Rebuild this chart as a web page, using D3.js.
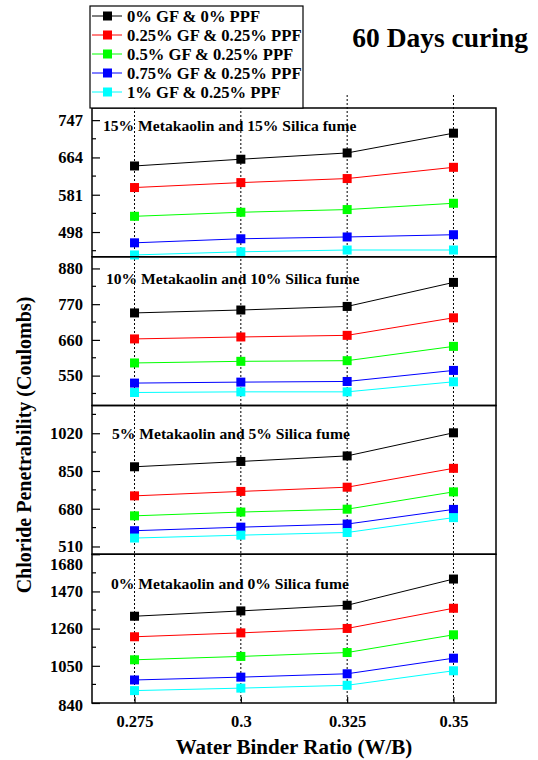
<!DOCTYPE html>
<html>
<head>
<meta charset="utf-8">
<script src="https://cdn.jsdelivr.net/npm/d3@7"></script>
<style>
  html, body { margin: 0; padding: 0; background: #fff; }
  svg text { font-family: "Liberation Serif", "Times New Roman", serif; font-weight: bold; fill: #000; }
</style>
</head>
<body>
<svg id="chart" width="538" height="760"></svg>
<script>
// Water/binder ratios on the shared x axis
const wbRatios = [0.275, 0.3, 0.325, 0.35];
const wbTickLabels = ["0.275", "0.3", "0.325", "0.35"];

// Fibre mixes (one line per mix)
const mixNames = [
  "0% GF & 0% PPF",
  "0.25% GF & 0.25% PPF",
  "0.5% GF & 0.25% PPF",
  "0.75% GF & 0.25% PPF",
  "1% GF & 0.25% PPF"
];
const mixColors = ["#000000", "#ff0000", "#00ff00", "#0000ff", "#00ffff"];

// Panel titles, top to bottom
const panelTitles = [
  "15% Metakaolin and 15% Silica fume",
  "10% Metakaolin and 10% Silica fume",
  "5% Metakaolin and 5% Silica fume",
  "0% Metakaolin and 0% Silica fume"
];

// Chloride penetrability (Coulombs), rows = mixes, cols = W/B ratios
const charge15 = [
  [645, 660, 674, 718],
  [597, 608, 617, 642],
  [533, 542, 548, 562],
  [474, 483, 487, 492],
  [447, 454, 458, 458]
];
const charge10 = [
  [743, 752, 763, 837],
  [663, 669, 674, 728],
  [589, 594, 596, 640],
  [527, 530, 532, 566],
  [498, 500, 500, 531]
];
const charge5 = [
  [869, 893, 918, 1022],
  [738, 758, 777, 862],
  [648, 665, 678, 756],
  [581, 597, 611, 677],
  [548, 561, 573, 640]
];
const charge0 = [
  [1330, 1360, 1392, 1540],
  [1214, 1236, 1261, 1375],
  [1084, 1103, 1125, 1225],
  [970, 986, 1005, 1093],
  [910, 924, 940, 1022]
];
const panelData = [charge15, charge10, charge5, charge0];

// y-axis ranges and tick values per panel
const panelDomains = [[443, 774], [458, 916], [475, 1145], [840, 1680]];
const panelTicks = [
  [498, 581, 664, 747],
  [550, 660, 770, 880],
  [510, 680, 850, 1020],
  [840, 1050, 1260, 1470, 1680]
];

const svg = d3.select("#chart");
const plotL = 92, plotR = 496, plotT = 108, plotB = 703;
const panelH = (plotB - plotT) / panelData.length;

const x = d3.scaleLinear().domain([0.265, 0.36]).range([plotL, plotR]);

// vertical dotted guides at each ratio
svg.append("g").selectAll("line")
  .data(wbRatios).join("line")
  .attr("x1", d => x(d)).attr("x2", d => x(d))
  .attr("y1", plotT - 13).attr("y2", plotB)
  .attr("stroke", "#000").attr("stroke-width", 1)
  .attr("stroke-dasharray", "2,2");

panelData.forEach((series, p) => {
  const y0 = plotT + p * panelH, y1 = y0 + panelH;
  const y = d3.scaleLinear().domain(panelDomains[p]).range([y1, y0]);
  const g = svg.append("g");

  // left axis with inward major and minor ticks
  const ticks = panelTicks[p];
  const step = ticks[1] - ticks[0];
  const minor = [];
  for (let v = ticks[0] - step / 2; v <= panelDomains[p][1]; v += step) {
    if (v >= panelDomains[p][0]) minor.push(v);
  }
  const axis = d3.axisLeft(y).tickValues(ticks).tickSize(-8).tickPadding(9).tickFormat(d3.format("d"));
  const ag = g.append("g").attr("transform", `translate(${plotL},0)`).call(axis);
  ag.select(".domain").remove();
  ag.selectAll(".tick line").attr("stroke", "#000").attr("stroke-width", 1.2);
  ag.selectAll(".tick text").attr("font-size", 16.5).attr("font-family", "Liberation Serif, serif").attr("font-weight", "bold")
    // labels sitting on a panel edge are nudged inside it
    .attr("dy", d => Math.abs(y(d) - y0) < 2 ? "0.95em" : (Math.abs(y(d) - y1) < 2 ? "0.45em" : "0.32em"));
  g.append("g").selectAll("line").data(minor).join("line")
    .attr("x1", plotL).attr("x2", plotL + 4)
    .attr("y1", d => y(d)).attr("y2", d => y(d))
    .attr("stroke", "#000").attr("stroke-width", 1.2);

  // panel frame
  g.append("rect").attr("x", plotL).attr("y", y0).attr("width", plotR - plotL).attr("height", panelH)
    .attr("fill", "none").attr("stroke", "#000").attr("stroke-width", 1.5);

  // panel title
  const titleX = [103, 106, 112, 111][p];
  const titleDy = [23, 27, 33.5, 35][p];
  g.append("text").attr("x", titleX).attr("y", y0 + titleDy)
    .attr("font-size", 15.6).text(panelTitles[p]);

  // lines and square markers
  const line = d3.line().x((d, i) => x(wbRatios[i])).y(d => y(d));
  series.forEach((vals, s) => {
    g.append("path").datum(vals).attr("d", line)
      .attr("fill", "none").attr("stroke", mixColors[s]).attr("stroke-width", 1);
    g.append("g").selectAll("rect").data(vals).join("rect")
      .attr("x", (d, i) => x(wbRatios[i]) - 4.5).attr("y", d => y(d) - 4.5)
      .attr("width", 9).attr("height", 9)
      .attr("fill", mixColors[s]);
  });
});

// x axis labels
const xa = d3.axisBottom(x).tickValues(wbRatios).tickSize(-6).tickPadding(12)
  .tickFormat((d, i) => wbTickLabels[i]);
const xg = svg.append("g").attr("transform", `translate(0,${plotB})`).call(xa);
xg.select(".domain").remove();
xg.selectAll(".tick line").attr("stroke", "#000").attr("stroke-width", 1.2);
xg.selectAll(".tick text").attr("font-size", 16.5).attr("font-family", "Liberation Serif, serif").attr("font-weight", "bold");

svg.append("text").attr("x", 294).attr("y", 754)
  .attr("text-anchor", "middle").attr("font-size", 21).text("Water Binder Ratio (W/B)");

svg.append("text").attr("transform", "translate(31,445) rotate(-90)")
  .attr("text-anchor", "middle").attr("font-size", 20).text("Chloride Penetrability (Coulombs)");

svg.append("text").attr("x", 528).attr("y", 47)
  .attr("text-anchor", "end").attr("font-size", 27.5).text("60 Days curing");

// legend
const lg = svg.append("g");
lg.append("rect").attr("x", 90).attr("y", 6).attr("width", 213).attr("height", 102)
  .attr("fill", "#fff").attr("stroke", "#000").attr("stroke-width", 1.2);
mixNames.forEach((name, i) => {
  const cy = 16 + i * 19;
  lg.append("line").attr("x1", 92).attr("x2", 122).attr("y1", cy).attr("y2", cy)
    .attr("stroke", mixColors[i]).attr("stroke-width", 1);
  lg.append("rect").attr("x", 103).attr("y", cy - 4.5).attr("width", 9).attr("height", 9)
    .attr("fill", mixColors[i]);
  lg.append("text").attr("x", 127).attr("y", cy + 5.5).attr("font-size", 16.6).text(name);
});
</script>
</body>
</html>
